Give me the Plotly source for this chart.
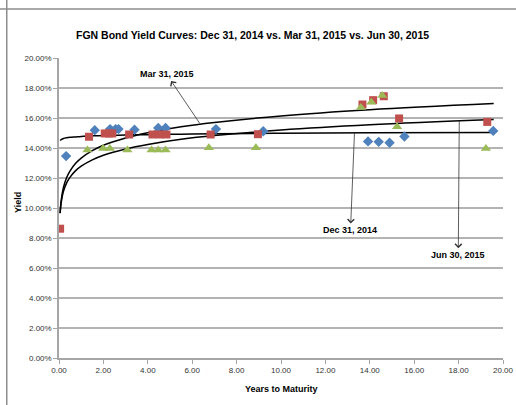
import plotly.graph_objects as go

# Bond data (years to maturity, yield %)
dec_x = [0.32, 1.61, 2.30, 2.55, 2.68, 3.40, 4.47, 4.80, 7.07, 9.20, 13.92, 14.40, 14.89, 15.56, 19.56]
dec_y = [13.46, 15.19, 15.26, 15.26, 15.26, 15.22, 15.34, 15.34, 15.26, 15.12, 14.44, 14.41, 14.35, 14.77, 15.14]

mar_x = [0.05, 1.35, 2.06, 2.25, 2.40, 3.16, 4.21, 4.54, 4.84, 6.83, 8.96, 13.67, 14.15, 14.63, 15.32, 19.29]
mar_y = [8.62, 14.75, 14.97, 14.97, 14.97, 14.90, 14.90, 14.90, 14.90, 14.90, 14.92, 16.90, 17.19, 17.45, 15.97, 15.74]

jun_x = [1.28, 1.99, 2.29, 3.08, 4.17, 4.47, 4.80, 6.75, 8.87, 13.60, 14.07, 14.56, 15.23, 19.23]
jun_y = [13.86, 13.97, 13.97, 13.86, 13.86, 13.86, 13.86, 14.01, 14.01, 16.70, 17.05, 17.50, 15.41, 13.97]

# Trendlines
trend_x = [0.05, 0.1, 0.2, 0.35, 0.5, 0.75, 1, 1.5, 2, 3, 4, 5.5, 7, 10, 14, 19.58]
trend_mar = [9.67, 10.52, 11.37, 12.05, 12.48, 12.98, 13.33, 13.82, 14.18, 14.67, 15.02, 15.41, 15.70, 16.14, 16.55, 16.96]
trend_jun = [9.65, 10.38, 11.11, 11.69, 12.06, 12.49, 12.79, 13.21, 13.52, 13.94, 14.24, 14.58, 14.83, 15.20, 15.55, 15.90]
trend_dec = [14.50, 14.56, 14.63, 14.68, 14.71, 14.74, 14.77, 14.81, 14.83, 14.87, 14.89, 14.92, 14.95, 14.98, 15.01, 15.04]

x_ticks = [0, 2, 4, 6, 8, 10, 12, 14, 16, 18, 20]
x_labels = ["0.00", "2.00", "4.00", "6.00", "8.00", "10.00", "12.00", "14.00", "16.00", "18.00", "20.00"]
y_ticks = [0, 2, 4, 6, 8, 10, 12, 14, 16, 18, 20]
y_labels = ["0.00%", "2.00%", "4.00%", "6.00%", "8.00%", "10.00%", "12.00%", "14.00%", "16.00%", "18.00%", "20.00%"]

FONT = "Liberation Sans, Arial, sans-serif"

fig = go.Figure()

for ty in (trend_mar, trend_jun, trend_dec):
    fig.add_trace(go.Scatter(x=trend_x, y=ty, mode="lines", line=dict(color="black", width=1.5, shape="spline"),
                             hoverinfo="skip", showlegend=False))

fig.add_trace(go.Scatter(x=dec_x, y=dec_y, mode="markers", name="Dec 31, 2014",
                         marker=dict(symbol="diamond", size=8, color="#4F81BD")))
fig.add_trace(go.Scatter(x=mar_x, y=mar_y, mode="markers", name="Mar 31, 2015",
                         marker=dict(symbol="square", size=8, color="#C0504D")))
fig.add_trace(go.Scatter(x=jun_x, y=jun_y, mode="markers", name="Jun 30, 2015",
                         marker=dict(symbol="triangle-up", size=9, color="#9BBB59")))

ann_font = dict(family=FONT, size=9, color="black")
arrow_kw = dict(showarrow=True, arrowside="start", arrowhead=0, startarrowhead=4, arrowwidth=0.8,
                startarrowsize=1.6, arrowcolor="#333")
fig.add_annotation(x=6.34, y=15.64, ax=-33, ay=-49, text="<b>Mar 31, 2015</b>", font=ann_font, **arrow_kw)
fig.add_annotation(x=13.31, y=15.0, ax=-4, ay=97, text="<b>Dec 31, 2014</b>", font=ann_font, **arrow_kw)
fig.add_annotation(x=18.03, y=15.82, ax=-1, ay=134, text="<b>Jun 30, 2015</b>", font=ann_font, **arrow_kw)

# title and axis titles
fig.add_annotation(xref="paper", yref="paper", x=0.435, y=1.0767, xanchor="center", yanchor="middle",
                   showarrow=False, text="<b>FGN Bond Yield Curves: Dec 31, 2014 vs. Mar 31, 2015 vs. Jun 30, 2015</b>",
                   font=dict(family=FONT, size=10.5, color="black"))
fig.add_annotation(xref="paper", yref="paper", x=-0.0923, y=0.517, xanchor="center", yanchor="middle",
                   showarrow=False, text="<b>Yield</b>", textangle=-90,
                   font=dict(family=FONT, size=9, color="black"))
fig.add_annotation(xref="paper", yref="paper", x=0.5, y=-0.103, xanchor="center", yanchor="middle",
                   showarrow=False, text="<b>Years to Maturity</b>",
                   font=dict(family=FONT, size=9, color="black"))

# outer chart border
fig.add_shape(type="line", xref="paper", yref="paper", x0=-0.1177, x1=-0.1177, y0=-0.2, y1=1.2,
              line=dict(color="#8c8c8c", width=1.5))
fig.add_shape(type="line", xref="paper", yref="paper", x0=-0.2, x1=1.2, y0=1.163, y1=1.163,
              line=dict(color="#8c8c8c", width=1.5))

fig.update_layout(
    width=516, height=405,
    margin=dict(l=59, r=13, t=58, b=47),
    paper_bgcolor="white", plot_bgcolor="white",
    showlegend=False,
    xaxis=dict(range=[0, 20], tickvals=x_ticks, ticktext=x_labels, showgrid=False, zeroline=False,
               automargin=False,
               showline=True, linecolor="#a6a6a6", linewidth=1.5, ticks="outside", ticklen=4,
               tickcolor="#a6a6a6", tickfont=dict(family=FONT, size=8, color="#333")),
    yaxis=dict(range=[0, 20], tickvals=y_ticks, ticktext=y_labels, showgrid=True,
               gridcolor="#b3b3b3", gridwidth=1.5, zeroline=False, automargin=False,
               showline=True, linecolor="#a6a6a6", linewidth=1.5, ticks="outside", ticklen=4,
               tickcolor="#a6a6a6", tickfont=dict(family=FONT, size=8, color="#333")),
)

fig.write_html("out.html", config={"displayModeBar": False},
               post_script="document.body.style.margin='0';document.body.style.overflow='hidden';")
